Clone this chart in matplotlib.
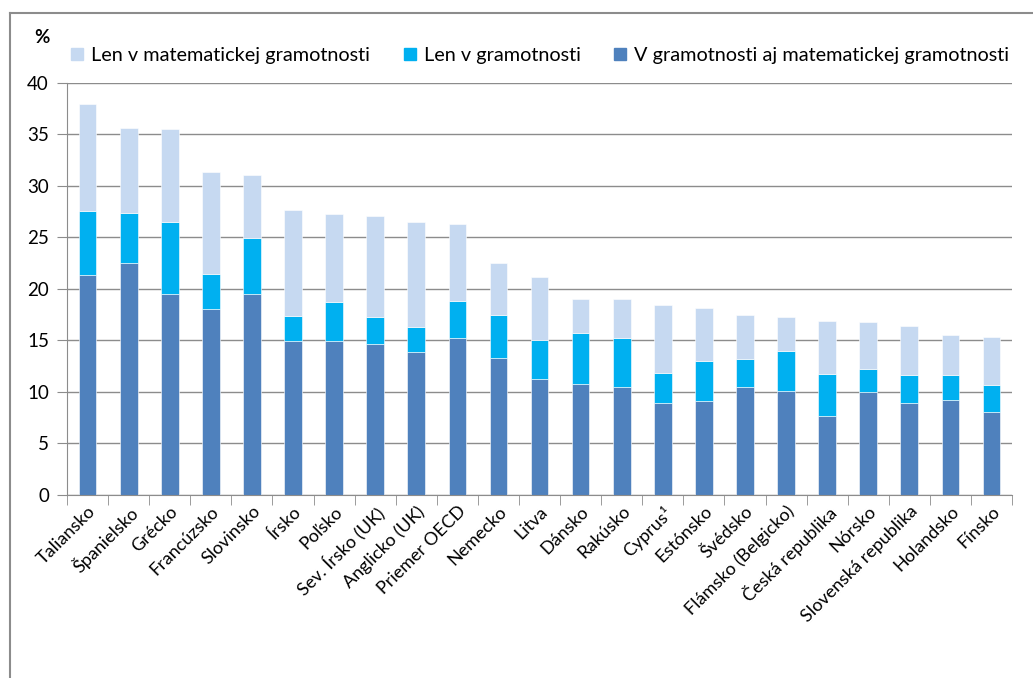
import matplotlib.pyplot as plt
import numpy as np
from matplotlib.lines import Line2D
from matplotlib.patches import Patch

plt.rcParams['font.family'] = ['Lato', 'DejaVu Sans']

countries = ["Taliansko", "Španielsko", "Grécko", "Francúzsko", "Slovinsko", "Írsko", "Poľsko",
             "Sev. Írsko (UK)", "Anglicko (UK)", "Priemer OECD", "Nemecko", "Litva", "Dánsko",
             "Rakúsko", "Cyprus¹", "Estónsko", "Švédsko", "Flámsko (Belgicko)", "Česká republika",
             "Nórsko", "Slovenská republika", "Holandsko", "Fínsko"]

# cumulative levels
both = [21.4, 22.5, 19.5, 18.1, 19.5, 14.9, 14.9, 14.7, 13.9, 15.2, 13.3, 11.3, 10.8,
        10.5, 8.9, 9.1, 10.5, 10.1, 7.7, 10.0, 8.9, 9.25, 8.05]
lit_top = [27.6, 27.4, 26.5, 21.5, 24.9, 17.4, 18.7, 17.3, 16.3, 18.8, 17.45, 15.0, 15.7,
           15.2, 11.8, 13.0, 13.2, 14.0, 11.7, 12.2, 11.65, 11.65, 10.65]
total = [38.0, 35.6, 35.5, 31.4, 31.1, 27.7, 27.3, 27.1, 26.5, 26.3, 22.5, 21.2, 19.0,
         19.0, 18.4, 18.2, 17.5, 17.3, 16.9, 16.8, 16.4, 15.5, 15.3]

lit_only = np.array(lit_top) - np.array(both)
num_only = np.array(total) - np.array(lit_top)

c_num = "#C6D9F1"
c_lit = "#00B0F0"
c_both = "#4F81BD"

fig = plt.figure(figsize=(10.33, 6.78), dpi=100)
ax = fig.add_axes([0.0649, 0.270, 0.9148, 0.6076])

x = np.arange(len(countries))
w = 0.43
ax.bar(x, both, w, color=c_both, edgecolor="white", linewidth=0.4)
ax.bar(x, lit_only, w, bottom=both, color=c_lit, edgecolor="white", linewidth=0.4)
ax.bar(x, num_only, w, bottom=lit_top, color=c_num, edgecolor="white", linewidth=0.4)

ax.set_xlim(-0.5, len(countries) - 0.5)
ax.set_ylim(0, 40)
ax.set_yticks(range(0, 41, 5))
ax.yaxis.grid(True, color="#8c8c8c", linewidth=1)
ax.set_axisbelow(True)
for s in ["top", "right"]:
    ax.spines[s].set_visible(False)
ax.spines["left"].set_color("#8c8c8c")
ax.spines["bottom"].set_color("#8c8c8c")

ax.set_xticks(x)
ax.set_xticklabels(countries, rotation=45, ha="right", rotation_mode="anchor", fontsize=13)
ax.tick_params(axis="x", length=0, pad=6)
ax.set_xticks(np.arange(-0.5, len(countries)), minor=True)
ax.tick_params(axis="x", which="minor", length=7, color="#8c8c8c")
ax.tick_params(axis="y", length=7, color="#8c8c8c", labelsize=13.5, pad=6)

fig.text(0.041, 0.945, "%", fontsize=13.5, fontweight="bold", ha="center", va="center")

handles = [Patch(color=c_num), Patch(color=c_lit), Patch(color=c_both)]
labels = ["Len v matematickej gramotnosti", "Len v gramotnosti", "V gramotnosti aj matematickej gramotnosti"]
fig.legend(handles, labels, loc="center", bbox_to_anchor=(0.523, 0.918), ncol=3, frameon=False,
           fontsize=14.3, handlelength=0.6, handleheight=0.6, handletextpad=0.4, columnspacing=1.7)

# outer chart frame
fig.add_artist(Line2D([0.0097, 0.0097], [0.0, 0.981], color="#8c8c8c", linewidth=1.5))
fig.add_artist(Line2D([0.0097, 1.0], [0.981, 0.981], color="#8c8c8c", linewidth=1.5))

fig.savefig("out.png", dpi=100)
